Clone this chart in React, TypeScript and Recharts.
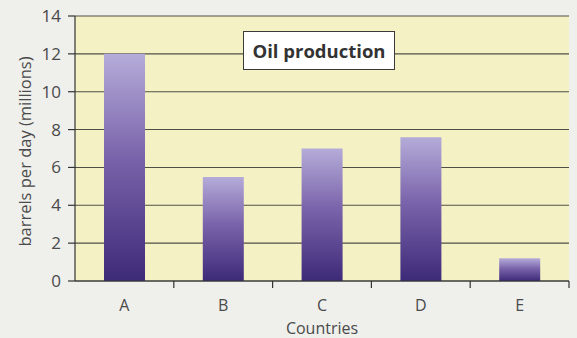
import React from "react";
import { BarChart, Bar, XAxis, YAxis, CartesianGrid } from "recharts";

const countries = ["A", "B", "C", "D", "E"];
const production = [12, 5.5, 7, 7.6, 1.2];
const yTicks = [0, 2, 4, 6, 8, 10, 12, 14];

const data = countries.map((c, i) => ({ country: c, value: production[i] }));

const FONT = "'Open Sans', 'Noto Sans', sans-serif";
const TEXT = "#4a4a4a";

const XTick = (props: any) => {
  const { x, y, payload, index, visibleTicksCount } = props;
  const half = payload && payload.offset ? payload.offset : 0;
  const axisY = y - 8;
  const isLast = index === (visibleTicksCount ?? countries.length) - 1;
  return (
    <g>
      {index > 0 && (
        <line x1={x - half} x2={x - half} y1={axisY} y2={axisY + 7} stroke="#333" strokeWidth={1.2} />
      )}
      {isLast && (
        <line x1={x + half} x2={x + half} y1={axisY} y2={axisY + 7} stroke="#333" strokeWidth={1.2} />
      )}
      <text x={x} y={y + 22} textAnchor="middle" fill={TEXT} fontSize={16} fontFamily={FONT}>
        {payload.value}
      </text>
    </g>
  );
};

const YLabel = (props: any) => {
  const vb = props.viewBox || {};
  const cx = 24;
  const cy = (vb.y ?? 0) + (vb.height ?? 0) / 2 + 3;
  return (
    <text
      x={cx}
      y={cy}
      transform={`rotate(-90, ${cx}, ${cy})`}
      textAnchor="middle"
      dominantBaseline="central"
      fill={TEXT}
      fontSize={16.5}
      fontFamily={FONT}
    >
      barrels per day (millions)
    </text>
  );
};

export default function App() {
  return (
    <div style={{ position: "fixed", left: 0, top: 0, width: 577, height: 338, background: "#efefec" }}>
      <BarChart
        width={577}
        height={338}
        data={data}
        margin={{ top: 16, right: 8, bottom: 0, left: 0 }}
        barCategoryGap={0}
      >
        <defs>
          <linearGradient id="barGrad" x1="0" y1="0" x2="0" y2="1">
            <stop offset="0%" stopColor="#b5acd9" />
            <stop offset="45%" stopColor="#7a64ab" />
            <stop offset="100%" stopColor="#3d2a78" />
          </linearGradient>
        </defs>
        <CartesianGrid
          horizontal={true}
          vertical={false}
          stroke="#4f4f48"
          strokeWidth={1.1}
          fill="#f4f1c4"
          fillOpacity={1}
        />
        <XAxis
          dataKey="country"
          type="category"
          height={57}
          axisLine={{ stroke: "#333", strokeWidth: 1.2 }}
          tickLine={false}
          tick={<XTick />}
          interval={0}
          label={{ value: "Countries", position: "insideBottom", offset: 4, fill: TEXT, fontSize: 16, fontFamily: FONT }}
        />
        <YAxis
          type="number"
          domain={[0, 14]}
          ticks={yTicks}
          width={75}
          interval={0}
          axisLine={{ stroke: "#333", strokeWidth: 1.2 }}
          tickLine={{ stroke: "#333", strokeWidth: 1.2 }}
          tickSize={7}
          tickMargin={7}
          tick={{ fill: TEXT, fontSize: 17, fontFamily: FONT }}
          label={<YLabel />}
        />
        <Bar dataKey="value" fill="url(#barGrad)" barSize={41} isAnimationActive={false} />
      </BarChart>
      <div
        style={{
          position: "absolute",
          left: 243,
          top: 31,
          width: 150,
          height: 37,
          border: "1.5px solid #3a3a3a",
          background: "#ffffff",
          display: "flex",
          alignItems: "center",
          justifyContent: "center",
          fontFamily: FONT,
          fontWeight: 700,
          fontSize: 18.5,
          color: "#333",
        }}
      >
        Oil production
      </div>
    </div>
  );
}
